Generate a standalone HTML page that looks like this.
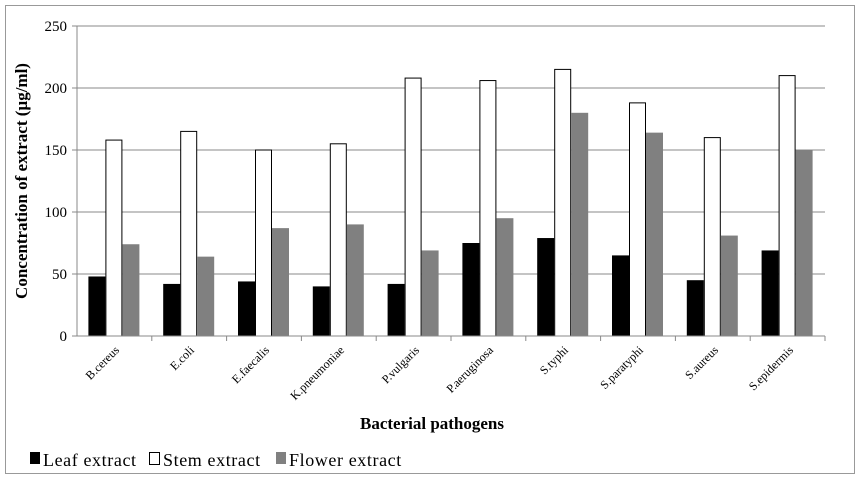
<!DOCTYPE html>
<html><head><meta charset="utf-8"><style>
body{margin:0;background:#fff;position:relative;width:865px;height:482px;overflow:hidden;}
svg, svg text{font-family:"Liberation Serif","Times New Roman",serif;}
.xl{position:absolute;width:150px;text-align:right;font:12px/14px "Liberation Serif",serif;white-space:nowrap;transform-origin:100% 100%;transform:rotate(-45deg);color:#000;}
</style></head><body>
<svg id="chart" width="865" height="482" font-family="Liberation Serif, serif" style="position:absolute;left:0;top:0">
<rect x="5.5" y="5.5" width="849" height="468" fill="#fff" stroke="#999"/>
<g id="grid"></g><g id="bars"></g><g id="axes"></g>
<text x="432" y="429" text-anchor="middle" font-weight="bold" font-size="17">Bacterial pathogens</text>
<text transform="translate(27,181) rotate(-90)" text-anchor="middle" font-weight="bold" font-size="17">Concentration of extract (µg/ml)</text>
<g font-size="18">
<g><rect x="30" y="452" width="10" height="12" fill="#000"/><text x="43" y="466" letter-spacing="0.6">Leaf extract</text></g>
<g><rect x="149.5" y="452.5" width="10" height="12" fill="#fff" stroke="#000"/><text x="163" y="466" letter-spacing="0.6">Stem extract</text></g>
<g><rect x="276" y="452" width="10" height="12" fill="#808080"/><text x="289" y="466" letter-spacing="0.6">Flower extract</text></g>
</g>
</svg>
<div class="xl" style="left:-27.6px;top:339px">B.cereus</div>
<div class="xl" style="left:47.2px;top:339px">E.coli</div>
<div class="xl" style="left:122px;top:339px">E.faecalis</div>
<div class="xl" style="left:196.8px;top:339px">K.pneumoniae</div>
<div class="xl" style="left:271.6px;top:339px">P.vulgaris</div>
<div class="xl" style="left:346.4px;top:339px">P.aeruginosa</div>
<div class="xl" style="left:421.2px;top:339px">S.typhi</div>
<div class="xl" style="left:496px;top:339px">S.paratyphi</div>
<div class="xl" style="left:570.8px;top:339px">S.aureus</div>
<div class="xl" style="left:645.6px;top:339px">S.epidermis</div>
<script>
const categories=["B.cereus","E.coli","E.faecalis","K.pneumoniae","P.vulgaris","P.aeruginosa","S.typhi","S.paratyphi","S.aureus","S.epidermis"];
const leafValues=[48,42,44,40,42,75,79,65,45,69];
const stemValues=[158,165,150,155,208,206,215,188,160,210];
const flowerValues=[74,64,87,90,69,95,180,164,81,150];
const yTicks=[0,50,100,150,200,250];
const NS="http://www.w3.org/2000/svg";
const x0=77,x1=825,y0=336,y1=26,ymax=250;
const bw=(x1-x0)/categories.length;
const y=v=>y0-(v/ymax)*(y0-y1);
function mk(t,a,p){const e=document.createElementNS(NS,t);for(const k in a)e.setAttribute(k,a[k]);p.appendChild(e);return e;}
const grid=document.getElementById('grid'),bars=document.getElementById('bars'),axes=document.getElementById('axes');
yTicks.forEach(v=>{
 if(v>0){const l=mk('line',{x1:x0,x2:x1,y1:y(v),y2:y(v),stroke:'#888'},grid);
 
 }
 const tk=mk('line',{x1:x0-5,x2:x0,y1:y(v),y2:y(v),stroke:'#888'},axes);
 
 
 const t=mk('text',{x:x0-10,y:y(v)+5,'text-anchor':'end','font-size':15},axes);t.textContent=v;
 
 
});
const series=[[leafValues,'#000','none','leaf'],[stemValues,'#fff','#000','stem'],[flowerValues,'#808080','none','flower']];
const w=17;
categories.forEach((c,i)=>{
 const cx=x0+bw*(i+0.5);
 series.forEach((s,j)=>{
  const v=s[0][i];const bx=cx-1.5*w+j*w-0.5;
  const r=mk('rect',{x:bx+(s[2]!=='none'?0.5:0),y:y(v),width:w-(s[2]!=='none'?1:0),height:y0-y(v),fill:s[1],stroke:s[2]},bars);
  
  
 });
 const tk=mk('line',{x1:x0+bw*(i+1),x2:x0+bw*(i+1),y1:y0,y2:y0+5,stroke:'#888'},axes);
 
 
});
const ax=mk('line',{x1:x0,x2:x0,y1:y1,y2:y0,stroke:'#888'},axes);


const xa=mk('line',{x1:x0,x2:x1,y1:y0,y2:y0,stroke:'#888'},axes);


</script>
</body></html>
